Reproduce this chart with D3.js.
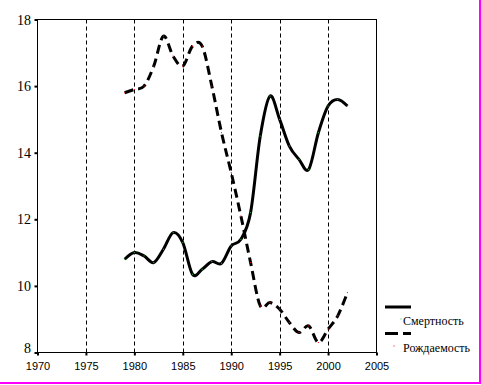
<!DOCTYPE html>
<html>
<head>
<meta charset="utf-8">
<script src="https://cdn.jsdelivr.net/npm/d3@7/dist/d3.min.js"></script>
<style>
  html, body { margin: 0; padding: 0; background: #fff; }
  svg { display: block; }
</style>
</head>
<body>
<svg id="chart" width="481" height="385"></svg>
<script>
// ---- data ----
const years = [1979,1980,1981,1982,1983,1984,1985,1986,1987,1988,1989,1990,
               1991,1992,1993,1994,1995,1996,1997,1998,1999,2000,2001,2002];
const mortality = [10.8,11.0,10.9,10.7,11.1,11.6,11.3,10.35,10.5,10.73,10.68,11.2,
                   11.4,12.2,14.5,15.7,15.0,14.2,13.8,13.5,14.6,15.4,15.6,15.4];
const births = [15.8,15.9,16.0,16.6,17.5,16.9,16.6,17.2,17.2,16.0,14.6,13.4,
                12.1,10.7,9.4,9.5,9.3,8.9,8.6,8.8,8.3,8.7,9.1,9.8];
const xTicks = [1970,1975,1980,1985,1990,1995,2000,2005];
const yTicks = [8,10,12,14,16,18];
const seriesNames = ["Смертность","Рождаемость"];

// ---- layout ----
const svg = d3.select("#chart");
const X0 = 37.5, X1 = 376.5, Y0 = 352.5, Y1 = 19.5;
const x = d3.scaleLinear().domain([1970, 2005]).range([X0, X1]);
const y = d3.scaleLinear().domain([8, 18]).range([Y0, Y1]);

// magenta edge
svg.append("rect").attr("x", 479).attr("y", 0).attr("width", 2).attr("height", 384).attr("fill", "#ff00ff");
svg.append("rect").attr("x", 0).attr("y", 382).attr("width", 481).attr("height", 2).attr("fill", "#ff00ff");

// vertical dashed grid
svg.append("g").selectAll("line")
  .data(xTicks.filter(d => d > 1970 && d < 2005))
  .join("line")
  .attr("x1", d => Math.round(x(d)) + 0.5).attr("x2", d => Math.round(x(d)) + 0.5)
  .attr("y1", Y1).attr("y2", Y0)
  .attr("stroke", "#000").attr("stroke-width", 1).attr("stroke-dasharray", "4,3");

// frame
svg.append("rect").attr("x", X0).attr("y", Y1).attr("width", X1 - X0).attr("height", Y0 - Y1)
  .attr("fill", "none").attr("stroke", "#000").attr("stroke-width", 1);

// axes
const yAxis = d3.axisLeft(y).tickValues(yTicks).tickSize(3).tickSizeOuter(0).tickPadding(3.5).tickFormat(d3.format("d"));
const gy = svg.append("g").attr("transform", `translate(${X0},0)`).call(yAxis);
gy.select(".domain").remove();
gy.selectAll(".tick line").attr("stroke", "#000").attr("stroke-width", 2);
gy.selectAll(".tick text")
  .attr("font-family", "'Liberation Serif', 'Times New Roman', serif")
  .attr("font-size", 14).attr("fill", "#000")
  .attr("dy", null).attr("y", d => d === 8 ? -0.5 : 4.5);

const xAxis = d3.axisBottom(x).tickValues(xTicks).tickSize(3).tickSizeOuter(0).tickFormat(d3.format("d"));
const gx = svg.append("g").attr("transform", `translate(0,${Y0})`).call(xAxis);
gx.select(".domain").remove();
gx.selectAll(".tick line").attr("stroke", "#000").attr("stroke-width", 2);
gx.selectAll(".tick text")
  .attr("font-family", "'Liberation Sans', Arial, sans-serif")
  .attr("font-size", 11).attr("fill", "#000")
  .attr("dy", null).attr("y", 17);

// lines (uniform Catmull-Rom, like spreadsheet smoothing)
const line = d3.line().x(d => x(d[0])).y(d => y(d[1])).curve(d3.curveCatmullRom.alpha(0));
const mData = years.map((yr, i) => [yr, mortality[i]]);
const bData = years.map((yr, i) => [yr, births[i]]);

svg.append("path").datum(mData).attr("d", line)
  .attr("fill", "none").attr("stroke", "#000").attr("stroke-width", 3)
  .attr("stroke-linejoin", "round");
svg.append("path").datum(bData).attr("d", line)
  .attr("fill", "none").attr("stroke", "#000").attr("stroke-width", 3)
  .attr("stroke-dasharray", "9,5");

// tiny markers
svg.append("g").selectAll("rect").data(mData).join("rect")
  .attr("x", d => x(d[0]) - 0.5).attr("y", d => y(d[1]) - 0.5)
  .attr("width", 1).attr("height", 1).attr("fill", "#22cc22");
svg.append("g").selectAll("rect").data(bData).join("rect")
  .attr("x", d => x(d[0]) - 0.5).attr("y", d => y(d[1]) - 0.5)
  .attr("width", 1).attr("height", 1).attr("fill", "#ff0000");

// legend
const lg = svg.append("g");
lg.append("line").attr("x1", 385).attr("x2", 411).attr("y1", 307).attr("y2", 307)
  .attr("stroke", "#000").attr("stroke-width", 3);
lg.append("rect").attr("x", 400.5).attr("y", 318.5).attr("width", 1).attr("height", 1).attr("fill", "#22cc22");
lg.append("text").attr("x", 403).attr("y", 325).text(seriesNames[0]);
lg.append("line").attr("x1", 385).attr("x2", 411).attr("y1", 333.5).attr("y2", 333.5)
  .attr("stroke", "#000").attr("stroke-width", 3).attr("stroke-dasharray", "13,5");
lg.append("rect").attr("x", 393.5).attr("y", 345.5).attr("width", 1).attr("height", 1).attr("fill", "#ff0000");
lg.append("text").attr("x", 403).attr("y", 351.5).text(seriesNames[1]);
lg.selectAll("text").attr("font-family", "'Liberation Serif', 'Times New Roman', serif")
  .attr("font-size", 12).attr("fill", "#000");
</script>
</body>
</html>
